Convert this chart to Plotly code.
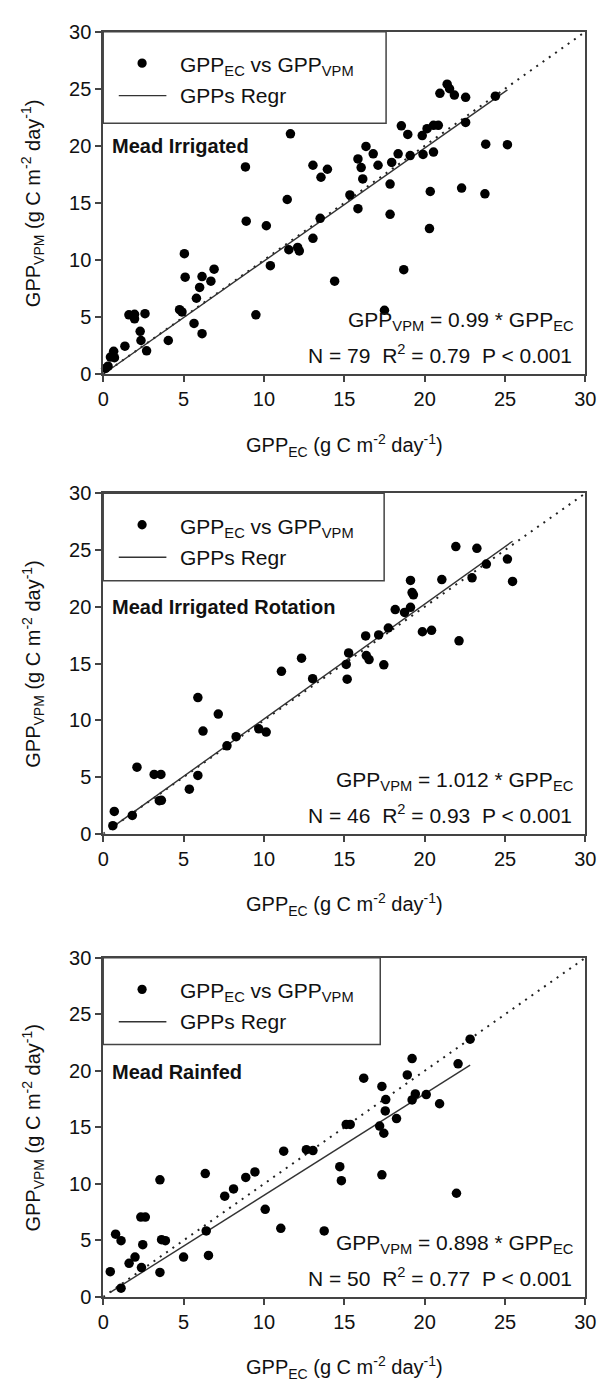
import plotly.graph_objects as go

W, H = 609, 1395
FONT = "Liberation Sans, Arial, sans-serif"
AX = "#444444"

# ---------------- data ----------------
ec_irr = [11.45, 8.9, 10.15, 13.5, 13.05, 11.55, 12.1, 12.2, 5.05, 10.4, 14.4, 5.1, 6.15, 6.9, 6.7, 6.0,
          5.8, 4.75, 4.9, 5.65, 6.15, 9.5, 4.05, 1.6, 1.95, 1.95, 2.6, 2.3, 2.35, 2.7, 1.35, 0.65, 0.45,
          0.7, 0.3, 0.15,
          21.4, 21.55, 20.95, 21.85, 22.55, 24.4, 18.55, 18.95, 19.85, 20.15, 20.55, 20.85, 22.55, 23.8,
          25.15, 16.35, 15.85, 16.8, 16.05, 17.1, 17.95, 18.35, 19.1, 19.9, 20.55, 16.15, 17.85, 20.35,
          22.3, 23.75, 15.35,
          15.85, 17.85, 20.3, 18.7, 17.5,
          11.65, 8.85, 13.05, 13.95, 13.55]
vpm_irr = [15.3, 13.4, 13.0, 13.65, 11.9, 10.9, 11.1, 10.8, 10.55, 9.5, 8.15, 8.5, 8.55, 9.2, 8.15, 7.6,
           6.65, 5.65, 5.45, 4.45, 3.55, 5.2, 2.95, 5.2, 5.25, 4.85, 5.3, 3.75, 2.95, 2.05, 2.45, 2.0, 1.5,
           1.45, 0.7, 0.5,
           25.4, 25.0, 24.6, 24.45, 24.25, 24.35, 21.75, 21.0, 20.9, 21.5, 21.8, 21.8, 22.05, 20.15,
           20.1, 19.95, 18.85, 19.3, 18.1, 18.3, 18.55, 19.3, 19.15, 19.25, 19.45, 17.1, 16.65, 16.0,
           16.3, 15.8, 15.7,
           14.5, 14.0, 12.75, 9.15, 5.6,
           21.05, 18.15, 18.3, 17.95, 17.25]

ec_rot = [21.94, 23.25, 23.84, 25.15, 25.47, 22.95, 21.07, 19.12, 19.22, 19.3, 18.17, 18.75, 19.12, 17.74,
          16.33, 17.14, 19.86, 20.43, 22.14, 15.27, 16.37, 16.54, 17.46, 15.12, 15.18, 11.09, 12.34,
          13.03, 5.89, 7.16, 6.21, 7.7, 8.27, 9.68, 10.14, 2.1, 3.17, 3.59, 5.89, 5.36, 3.49, 3.62, 1.81,
          0.69, 0.6]
vpm_rot = [25.3, 25.15, 23.76, 24.2, 22.23, 22.55, 22.4, 22.32, 21.25, 21.05, 19.75, 19.5, 19.95, 18.13,
           17.43, 17.52, 17.8, 17.93, 17.0, 15.93, 15.7, 15.35, 14.89, 14.92, 13.62, 14.31, 15.47,
           13.67, 12.0, 10.55, 9.05, 7.75, 8.56, 9.25, 8.96, 5.87, 5.23, 5.23, 5.14, 3.93, 2.92, 2.95,
           1.62, 1.97, 0.72]

ec_rain = [22.83, 19.22, 22.08, 18.92, 16.21, 17.34, 19.42, 20.1, 17.58, 19.22, 20.93, 17.55, 18.25, 17.2,
           17.46, 15.12, 15.37, 14.72, 14.82, 17.34, 21.98, 11.23, 12.64, 13.05, 6.35, 8.87, 9.44, 7.56,
           8.11, 10.08, 11.05, 13.75, 6.41, 6.55, 5.0, 3.53, 2.34, 2.62, 0.77, 1.11, 3.63, 3.87, 2.46,
           1.98, 1.61, 2.38, 3.53, 0.44, 1.11]
vpm_rain = [22.8, 21.09, 20.62, 19.64, 19.35, 18.62, 17.96, 17.9, 17.46, 17.43, 17.09, 16.45, 15.78, 15.11,
            14.48, 15.26, 15.26, 11.52, 10.28, 10.8, 9.17, 12.89, 13.03, 12.95, 10.91, 10.57, 11.06, 8.91,
            9.55, 7.75, 6.07, 5.84, 5.84, 3.67, 3.52, 10.36, 7.06, 7.06, 5.55, 4.97, 5.06, 4.97, 4.62,
            3.52, 2.97, 2.59, 2.16, 2.23, 0.77]

site_names = ["Mead Irrigated", "Mead Irrigated Rotation", "Mead Rainfed"]
slopes = [0.99, 1.012, 0.898]
slope_labels = ["0.99", "1.012", "0.898"]
n_obs = [79, 46, 50]
r2_vals = ["0.79", "0.93", "0.77"]
p_label = "P < 0.001"
tick_vals = [0, 5, 10, 15, 20, 25, 30]
axis_range = [0, 30]
legend_labels = ["GPP<sub>EC</sub> vs GPP<sub>VPM</sub>", "GPPs Regr"]
x_title = "GPP<sub>EC</sub> (g C m<sup>-2</sup> day<sup>-1</sup>)"
y_title = "GPP<sub>VPM</sub> (g C m<sup>-2</sup> day<sup>-1</sup>)"

datasets = [(ec_irr, vpm_irr), (ec_rot, vpm_rot), (ec_rain, vpm_rain)]

# ---------------- layout geometry (pixels) ----------------
X_LEFT, X_RIGHT = 100, 596
tops = [21, 490, 962]
bottoms = [369, 836, 1306.5]
leg_right = [391, 389, 385]
leg_bottom = [114, 579, 1050]


def px(x):
    return x / W


def py(y):
    return 1 - y / H


fig = go.Figure()
shapes = []
annotations = []

for i, (ec, vpm) in enumerate(datasets):
    sfx = "" if i == 0 else str(i + 1)
    xa, ya = "x" + sfx, "y" + sfx
    # 1:1 line
    fig.add_trace(go.Scatter(x=axis_range, y=axis_range, mode="lines", xaxis=xa, yaxis=ya,
                             line=dict(color="#222222", width=2, dash="2px,5.7px"),
                             showlegend=False, hoverinfo="skip", cliponaxis=False))
    # regression line
    xr = [min(ec), max(ec)]
    fig.add_trace(go.Scatter(x=xr, y=[slopes[i] * v for v in xr], mode="lines", xaxis=xa, yaxis=ya,
                             line=dict(color="#333333", width=1.4), showlegend=False, hoverinfo="skip"))
    # points
    fig.add_trace(go.Scatter(x=ec, y=vpm, mode="markers", xaxis=xa, yaxis=ya,
                             marker=dict(color="black", size=9.5, line=dict(width=0)),
                             showlegend=False, cliponaxis=False))

    t, b = tops[i], bottoms[i]
    axis_common = dict(range=axis_range, tickvals=tick_vals, ticks="outside", ticklen=6, tickwidth=1.5,
                       tickcolor=AX, showline=True, linecolor=AX, linewidth=1.8, mirror=True,
                       showgrid=False, zeroline=False,
                       tickfont=dict(family=FONT, size=20, color="#111111"))
    fig.update_layout(**{
        "xaxis" + sfx: dict(domain=[px(X_LEFT), px(X_RIGHT)], anchor=ya, **axis_common),
        "yaxis" + sfx: dict(domain=[py(b), py(t)], anchor=xa, **axis_common),
    })

    # legend box
    lb = leg_bottom[i]
    shapes.append(dict(type="rect", xref="paper", yref="paper", x0=px(X_LEFT), x1=px(leg_right[i]),
                       y0=py(lb), y1=py(t), line=dict(color=AX, width=1.5), fillcolor="white",
                       layer="above"))
    r1 = t + 32
    r2 = t + 65
    shapes.append(dict(type="circle", xref="paper", yref="paper", x0=px(140 - 4.75), x1=px(140 + 4.75),
                       y0=py(r1 + 4.75), y1=py(r1 - 4.75), fillcolor="black", line=dict(width=0),
                       layer="above"))
    shapes.append(dict(type="line", xref="paper", yref="paper", x0=px(116), x1=px(165),
                       y0=py(r2), y1=py(r2), line=dict(color="#333333", width=1.4), layer="above"))
    annotations.append(dict(xref="paper", yref="paper", x=px(177), y=py(r1 + 3), text=legend_labels[0],
                            showarrow=False, xanchor="left", yanchor="middle",
                            font=dict(family=FONT, size=21, color="#111111")))
    annotations.append(dict(xref="paper", yref="paper", x=px(177), y=py(r2), text=legend_labels[1],
                            showarrow=False, xanchor="left", yanchor="middle",
                            font=dict(family=FONT, size=21, color="#111111")))
    # site name
    annotations.append(dict(xref="paper", yref="paper", x=px(107), y=py(t + 116), text="<b>" + site_names[i] + "</b>",
                            showarrow=False, xanchor="left", yanchor="middle",
                            font=dict(family=FONT, size=20, color="#111111")))
    # equation & stats
    annotations.append(dict(xref="paper", yref="paper", x=px(586), y=py(b - 54),
                            text="GPP<sub>VPM</sub> = " + slope_labels[i] + " * GPP<sub>EC</sub>",
                            showarrow=False, xanchor="right", yanchor="middle",
                            font=dict(family=FONT, size=21, color="#111111")))
    annotations.append(dict(xref="paper", yref="paper", x=px(584), y=py(b - 20),
                            text="N = %d  R<sup>2</sup> = %s  %s" % (n_obs[i], r2_vals[i], p_label),
                            showarrow=False, xanchor="right", yanchor="middle",
                            font=dict(family=FONT, size=21, color="#111111")))
    # axis titles
    annotations.append(dict(xref="paper", yref="paper", x=px((X_LEFT + X_RIGHT) / 2), y=py(b + 72),
                            text=x_title, showarrow=False, xanchor="center", yanchor="middle",
                            font=dict(family=FONT, size=20, color="#111111")))
    annotations.append(dict(xref="paper", yref="paper", x=px(28), y=py((t + b) / 2),
                            text=y_title, showarrow=False, xanchor="center", yanchor="middle",
                            textangle=-90, font=dict(family=FONT, size=20, color="#111111")))

fig.update_layout(width=W, height=H, margin=dict(l=0, r=0, t=0, b=0), paper_bgcolor="white",
                  plot_bgcolor="white", shapes=shapes, annotations=annotations, showlegend=False,
                  font=dict(family=FONT))
fig.write_html("out.html")
